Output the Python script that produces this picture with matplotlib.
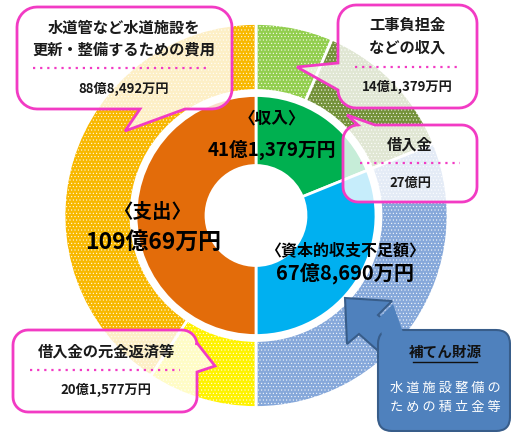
import numpy as np
import matplotlib
matplotlib.use("Agg")
import matplotlib.pyplot as plt
from matplotlib.patches import Polygon, FancyBboxPatch

plt.rcParams['font.family'] = ['Noto Sans CJK JP', 'DejaVu Sans']
plt.rcParams['hatch.linewidth'] = 0.35

# ---------------- data ----------------
inner_labels = ['収入', '資本的収支不足額', '支出']
inner_values = [41.1379, 67.8690, 109.0069]
inner_value_text = ['41億1,379万円', '67億8,690万円', '109億69万円']

outer_labels = ['工事負担金などの収入', '借入金', '補てん財源',
                '借入金の元金返済等', '水道管など水道施設を更新・整備するための費用']
outer_values = [14.1379, 27.0, 67.8690, 20.1577, 88.8492]
outer_value_text = ['14億1,379万円', '27億円', '', '20億1,577万円', '88億8,492万円']

inner_colors = ['#00B050', '#00B0F0', '#E36C0A']
outer_colors = ['#92CE4E', '#74923A', '#86A8DA', '#FFF200', '#F8B800']

# ---------------- figure ----------------
W, H = 511, 432
fig = plt.figure(figsize=(W / 100, H / 100), dpi=100)
ax = fig.add_axes([0, 0, 1, 1])

C = (256, 215.5)
wedges, _ = ax.pie(outer_values, colors=outer_colors, radius=192, center=C,
                   startangle=-90, counterclock=True,
                   wedgeprops=dict(width=67, edgecolor='white', linewidth=2))
for w in wedges:
    w.set_hatch('.....')
ax.pie(inner_values, colors=inner_colors, radius=120, center=C,
       startangle=-90, counterclock=True,
       wedgeprops=dict(width=70, edgecolor='white', linewidth=2))

ax.set_xlim(0, W)
ax.set_ylim(H, 0)
ax.set_aspect('equal')
ax.axis('off')

# ---------------- callouts ----------------
MAG = '#F23BC4'


def callout(x0, y0, x1, y1, r, side, a, b, tip, n=10):
    pts = []

    def arc(cx, cy, t0, t1):
        for t in np.linspace(np.radians(t0), np.radians(t1), n):
            pts.append((cx + r * np.cos(t), cy + r * np.sin(t)))
    arc(x0 + r, y0 + r, 180, 270)
    if side == 'top':
        pts += [(a, y0), tip, (b, y0)]
    arc(x1 - r, y0 + r, 270, 360)
    if side == 'right':
        pts += [(x1, a), tip, (x1, b)]
    arc(x1 - r, y1 - r, 0, 90)
    if side == 'bottom':
        pts += [(b, y1), tip, (a, y1)]
    arc(x0 + r, y1 - r, 90, 180)
    if side == 'left':
        pts += [(x0, b), tip, (x0, a)]
    return pts


boxes = [
    dict(box=(17, 7, 232, 109, 20), side='bottom', a=140, b=185, tip=(125, 131)),
    dict(box=(338, 5, 477, 108, 18), side='left', a=63, b=90, tip=(297, 67)),
    dict(box=(343, 125, 477, 202, 15), side='top', a=358, b=375, tip=(347, 115)),
    dict(box=(13, 330, 197, 412, 15), side='right', a=343, b=372, tip=(215, 366)),
]
for bx in boxes:
    x0, y0, x1, y1, r = bx['box']
    pts = callout(x0, y0, x1, y1, r, bx['side'], bx['a'], bx['b'], bx['tip'])
    ax.add_patch(Polygon(pts, closed=True, facecolor=(1, 1, 1, 0.78),
                         edgecolor=MAG, linewidth=2, zorder=5))

TXT = '#1a1a1a'
# box 1
ax.text(124, 28, '水道管など水道施設を', ha='center', va='center', fontsize=11,
        fontweight='bold', color=TXT, zorder=6)
ax.text(124, 50, '更新・整備するための費用', ha='center', va='center', fontsize=11,
        fontweight='bold', color=TXT, zorder=6)
ax.plot([33, 210], [68, 68], ls=(0, (1, 2.2)), color=MAG, lw=1.6, zorder=6)
ax.text(124, 89, outer_value_text[4], ha='center', va='center', fontsize=9.5,
        fontweight='bold', color=TXT, zorder=6)
# box 2
ax.text(407, 25, '工事負担金', ha='center', va='center', fontsize=11,
        fontweight='bold', color=TXT, zorder=6)
ax.text(407, 48, 'などの収入', ha='center', va='center', fontsize=11,
        fontweight='bold', color=TXT, zorder=6)
ax.plot([355, 457], [67, 67], ls=(0, (1, 2.2)), color=MAG, lw=1.6, zorder=6)
ax.text(407, 87, outer_value_text[0], ha='center', va='center', fontsize=9.5,
        fontweight='bold', color=TXT, zorder=6)
# box 3
ax.text(410, 145, '借入金', ha='center', va='center', fontsize=11,
        fontweight='bold', color=TXT, zorder=6)
ax.plot([360, 460], [163, 163], ls=(0, (1, 2.2)), color=MAG, lw=1.6, zorder=6)
ax.text(410, 183, outer_value_text[1], ha='center', va='center', fontsize=9.5,
        fontweight='bold', color=TXT, zorder=6)
# box 4
ax.text(107, 352, '借入金の元金返済等', ha='center', va='center', fontsize=11,
        fontweight='bold', color=TXT, zorder=6)
ax.plot([30, 180], [370, 370], ls=(0, (1, 2.2)), color=MAG, lw=1.6, zorder=6)
ax.text(106, 390, outer_value_text[3], ha='center', va='center', fontsize=9.5,
        fontweight='bold', color=TXT, zorder=6)

# ---------------- blue callout ----------------
BLUE = '#4F81BD'
BLUE_E = '#385D8A'
arrow = [(345, 298), (392, 301), (378, 315), (404, 338), (385, 357),
         (359, 334), (347, 344)]
ax.add_patch(Polygon(arrow, closed=True, facecolor=BLUE, edgecolor=BLUE_E,
                     linewidth=1.5, zorder=7))
ax.add_patch(FancyBboxPatch((378, 330), 132, 101,
                            boxstyle='round,pad=0,rounding_size=14',
                            facecolor=BLUE, edgecolor=BLUE_E, linewidth=1.5,
                            zorder=7))
ax.add_patch(Polygon([(379, 318), (393, 304), (405, 338), (385, 354)],
                     closed=True, facecolor=BLUE, edgecolor='none', zorder=7.5))
ax.text(445, 352, outer_labels[2], ha='center', va='center', fontsize=10.5,
        fontweight='bold', color='#111111', zorder=8)
ax.plot([413, 477], [362, 362], color='#111111', lw=1, zorder=8)
ax.text(445, 388, '水 道 施 設 整 備 の', ha='center', va='center', fontsize=9.5,
        color='white', zorder=8)
ax.text(445, 407, 'た め の 積 立 金 等', ha='center', va='center', fontsize=9.5,
        color='white', zorder=8)

# ---------------- inner labels ----------------
ax.text(272, 118, '〈' + inner_labels[0] + '〉', ha='center', va='center',
        fontsize=12, fontweight='bold', color='black', zorder=4)
ax.text(272, 150, inner_value_text[0], ha='center', va='center',
        fontsize=13.5, fontweight='bold', color='black', zorder=4)
ax.text(152, 212, '〈' + inner_labels[2] + '〉', ha='center', va='center',
        fontsize=14, fontweight='bold', color='black', zorder=4)
ax.text(153, 242, inner_value_text[2], ha='center', va='center',
        fontsize=16.5, fontweight='bold', color='black', zorder=4)
ax.text(345, 250, '〈' + inner_labels[1] + '〉', ha='center', va='center',
        fontsize=11.5, fontweight='bold', color='black', zorder=4)
ax.text(345, 273, inner_value_text[1], ha='center', va='center',
        fontsize=14.5, fontweight='bold', color='black', zorder=4)

fig.savefig('out.png', dpi=100)
